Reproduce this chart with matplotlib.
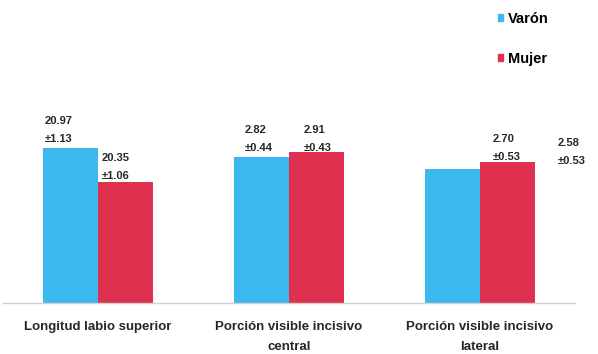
import numpy as np
import matplotlib
matplotlib.use("Agg")
import matplotlib.pyplot as plt
import matplotlib.patches as mpatches

# ── data ────────────────────────────────────────────────────────────────────
categories = ["Longitud labio superior",
              "Porción visible incisivo\ncentral",
              "Porción visible incisivo\nlateral"]
series = ["Varón", "Mujer"]
# relative bar heights as drawn in the figure (no y scale shown)
height_varon = [155, 146, 134]
height_mujer = [121, 151, 141]
label_varon = ["20.97\n±1.13", "2.82\n±0.44", "2.58\n±0.53"]
label_mujer = ["20.35\n±1.06", "2.91\n±0.43", "2.70\n±0.53"]

# ── style / layout ─────────────────────────────────────────────────────────
BLUE = "#3bb9ee"
RED = "#e0304f"
TXT = "#262626"
FONT = "Liberation Sans"
W = 0.288

# label anchors: (offset from bar left in category units, y centre in data units)
pos_varon = [(0.011, 173), (0.058, 164), (0.696, 151)]
pos_mujer = [(0.021, 136), (0.079, 164), (0.068, 155)]

fig = plt.figure(figsize=(5.98, 3.54), dpi=100)
ax = fig.add_axes([2.5 / 598, 51 / 354, 572.5 / 598, 283 / 354])

x = np.arange(len(categories))
ax.bar(x - W / 2, height_varon, W, color=BLUE, label=series[0])
ax.bar(x + W / 2, height_mujer, W, color=RED, label=series[1])

for i in range(len(categories)):
    dx, y = pos_varon[i]
    ax.text(x[i] - W + dx, y, label_varon[i], ha="left", va="center",
            fontsize=8, fontweight="bold", family=FONT, color=TXT,
            linespacing=2.0, clip_on=False)
    dx, y = pos_mujer[i]
    ax.text(x[i] + dx, y, label_mujer[i], ha="left", va="center",
            fontsize=8, fontweight="bold", family=FONT, color=TXT,
            linespacing=2.0, clip_on=False)

ax.set_xlim(-0.5, len(categories) - 0.5)
ax.set_ylim(0, 283)
ax.set_xticks(x)
ax.set_xticklabels(categories, fontsize=9.5, fontweight="bold",
                   family=FONT, color=TXT, linespacing=1.85)
ax.tick_params(axis="x", length=0, pad=13)
ax.set_yticks([])
for s in ["top", "right", "left"]:
    ax.spines[s].set_visible(False)
ax.spines["bottom"].set_color("#d0d0d0")
ax.spines["bottom"].set_linewidth(1)

handles = [mpatches.Patch(color=BLUE, label=series[0]),
           mpatches.Patch(color=RED, label=series[1])]
fig.legend(handles=handles, loc="upper left", bbox_to_anchor=(485 / 598, 1 + 1 / 354),
           frameon=False, handlelength=0.35, handleheight=0.35, handletextpad=0.3,
           labelspacing=1.75, prop={"family": FONT, "weight": "bold", "size": 10.5})

fig.savefig("out.png", dpi=100)
